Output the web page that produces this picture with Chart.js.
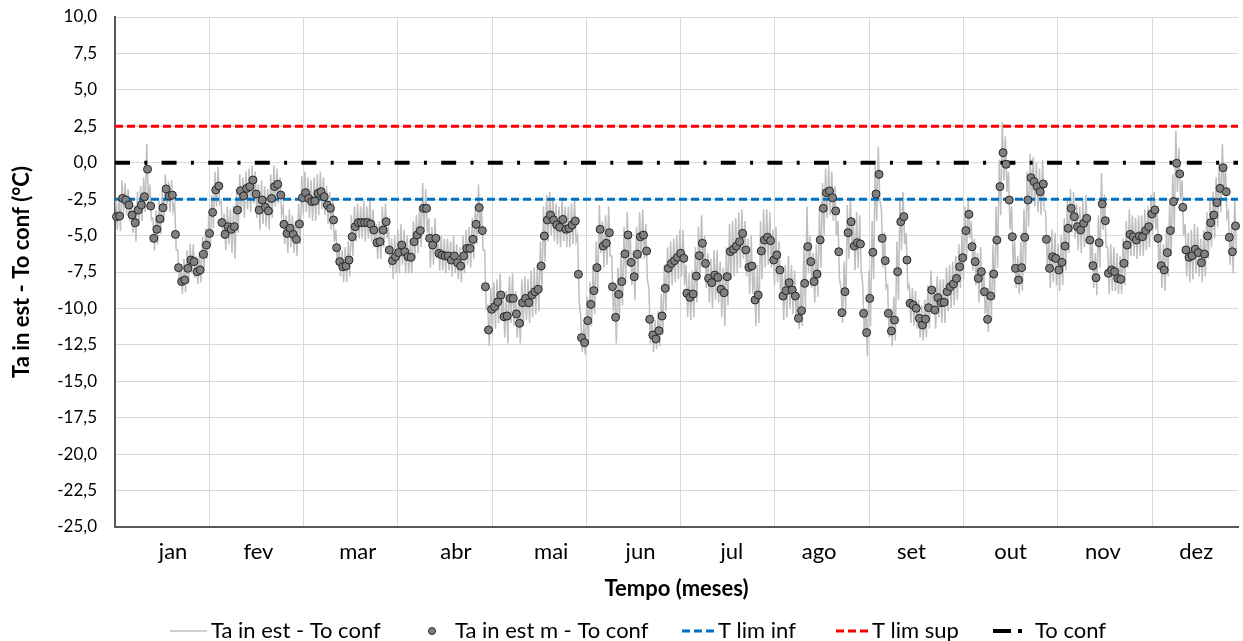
<!DOCTYPE html>
<html>
<head>
<meta charset="utf-8">
<script src="https://cdn.jsdelivr.net/npm/chart.js@4"></script>
<style>
  html, body { margin: 0; padding: 0; background: #fff; overflow: hidden; }
  #wrap { position: relative; width: 1243px; height: 641px; }
</style>
</head>
<body>
<div id="wrap"><canvas id="chart" width="1243" height="641"></canvas></div>
<script>
// month labels on the x axis
const months = ['jan', 'fev', 'mar', 'abr', 'mai', 'jun', 'jul', 'ago', 'set', 'out', 'nov', 'dez'];

// daily mean (Ta in est m - To conf), one value per day from 1 Jan
const dailyMean = [
  -3.70, -3.66, -2.45, -2.56, -2.90, -3.59, -4.12, -3.25, -2.90, -2.33,
  -0.45, -2.97, -5.19, -4.57, -3.86, -3.09, -1.80, -2.28, -2.22, -4.92,
  -7.20, -8.16, -8.05, -7.25, -6.68, -6.79, -7.48, -7.36, -6.29, -5.65,
  -4.85, -3.41, -1.87, -1.60, -4.11, -4.92, -4.39, -4.57, -4.39, -3.25,
  -1.92, -2.28, -1.76, -1.64, -1.19, -2.15, -3.25, -2.56, -3.06, -3.31,
  -2.45, -1.64, -1.48, -2.22, -4.23, -4.85, -4.50, -4.92, -5.26, -4.21,
  -2.40, -2.06, -2.45, -2.67, -2.63, -2.10, -1.99, -2.33, -2.90, -3.13,
  -3.93, -5.83, -6.79, -7.14, -7.09, -6.68, -5.08, -4.39, -4.11, -4.11,
  -4.11, -4.11, -4.21, -4.62, -5.49, -5.42, -4.62, -4.05, -5.99, -6.72,
  -6.45, -6.17, -5.65, -6.11, -6.45, -6.49, -5.42, -4.96, -4.66, -3.13,
  -3.13, -5.19, -5.65, -5.19, -6.22, -6.33, -6.40, -6.40, -6.68, -6.40,
  -6.86, -7.09, -6.40, -5.88, -5.88, -5.26, -4.23, -3.08, -4.66, -8.51,
  -11.48, -10.06, -9.88, -9.54, -9.08, -10.57, -10.52, -9.31, -9.31, -10.38,
  -11.02, -9.61, -9.31, -9.61, -9.08, -8.85, -8.69, -7.09, -5.03, -3.93,
  -3.59, -3.93, -4.27, -4.43, -3.89, -4.57, -4.50, -4.27, -4.00, -7.66,
  -12.01, -12.35, -10.84, -9.72, -8.78, -7.20, -4.57, -5.72, -5.53, -4.80,
  -8.51, -10.61, -9.03, -8.16, -6.26, -4.96, -6.84, -7.82, -6.29, -5.08,
  -4.96, -6.06, -10.75, -11.82, -12.10, -11.53, -10.52, -8.62, -7.25, -6.91,
  -6.72, -6.49, -6.22, -6.56, -8.96, -9.24, -9.01, -7.78, -6.38, -5.53,
  -6.91, -7.94, -8.23, -7.71, -7.87, -8.69, -8.92, -7.82, -6.10, -5.94,
  -5.72, -5.42, -4.85, -5.99, -7.18, -7.09, -9.42, -9.08, -6.06, -5.30,
  -5.12, -5.35, -6.68, -6.33, -7.36, -9.15, -8.78, -8.23, -8.74, -9.15,
  -10.68, -10.16, -8.28, -5.76, -6.79, -8.16, -7.64, -5.30, -3.13, -2.06,
  -1.94, -2.40, -3.31, -6.11, -10.29, -8.85, -4.80, -4.05, -5.72, -5.49,
  -5.58, -10.34, -11.66, -9.31, -6.15, -2.15, -0.80, -5.19, -6.72, -10.34,
  -11.55, -10.80, -7.48, -4.05, -3.70, -6.68, -9.65, -9.77, -9.99, -10.68,
  -11.14, -10.73, -9.95, -8.74, -10.11, -9.26, -9.61, -9.58, -8.85, -8.51,
  -8.32, -7.94, -7.14, -6.52, -4.66, -3.54, -5.76, -6.79, -7.94, -7.48,
  -8.85, -10.75, -9.15, -7.64, -5.31, -1.64, 0.69, -0.11, -2.56, -5.08,
  -7.25, -8.05, -7.20, -5.12, -2.56, -1.03, -1.30, -1.64, -1.99, -1.46,
  -5.26, -7.25, -6.45, -6.56, -7.36, -6.84, -5.72, -4.50, -3.13, -3.70,
  -4.39, -4.62, -4.16, -3.82, -5.31, -7.07, -7.89, -5.49, -2.83, -3.98,
  -7.59, -7.36, -7.48, -7.94, -8.00, -6.91, -5.65, -4.92, -5.08, -5.31,
  -5.03, -5.08, -4.66, -4.39, -3.52, -3.24, -5.19, -7.07, -7.36, -6.17,
  -4.66, -2.67, -0.04, -0.77, -3.06, -5.99, -6.49, -6.38, -5.94, -6.17,
  -6.86, -6.27, -5.03, -4.12, -3.59, -2.74, -1.76, -0.34, -1.99, -5.12,
  -6.11, -4.34
];

// hourly trace (Ta in est - To conf): daily top and bottom of the grey line
const traceHigh = [
  -2.6, -2.2, -1.2, -1.4, -1.8, -2.4, -2.9, -2.0, -1.6, -1.0,
  1.3, -1.5, -3.8, -3.3, -2.6, -1.9, -0.8, -1.3, -1.2, -2.8,
  -6.0, -7.0, -6.6, -6.0, -5.6, -5.6, -6.4, -6.2, -5.1, -4.5,
  -3.6, -2.2, -0.6, -0.3, -2.6, -3.5, -3.0, -3.2, -3.0, -1.8,
  -0.8, -1.0, -0.6, -0.4, -0.2, -0.6, -1.5, -1.2, -1.6, -1.8,
  -0.8, -0.2, -0.4, -1.0, -3.0, -3.6, -3.2, -3.6, -4.0, -2.8,
  -0.9, -0.6, -1.0, -1.2, -1.0, -0.8, -0.6, -1.0, -1.6, -2.0,
  -2.6, -4.6, -5.6, -6.0, -5.8, -5.4, -3.6, -3.0, -2.8, -3.0,
  -2.6, -3.0, -2.4, -3.2, -4.2, -4.0, -3.0, -2.8, -4.4, -5.2,
  -5.0, -4.6, -4.2, -4.6, -5.0, -5.2, -4.0, -3.6, -3.0, -1.4,
  -1.8, -3.8, -4.4, -3.8, -5.0, -5.0, -5.2, -5.2, -5.4, -5.0,
  -5.6, -5.8, -5.0, -4.6, -4.4, -3.8, -3.0, -1.5, -3.0, -6.0,
  -9.8, -8.6, -8.2, -8.0, -7.6, -9.0, -8.8, -7.8, -7.6, -8.8,
  -9.4, -8.0, -7.8, -8.0, -7.4, -7.2, -7.0, -5.4, -3.0, -2.2,
  -2.0, -2.4, -2.8, -3.0, -2.4, -3.0, -3.0, -2.8, -2.4, -5.0,
  -10.6, -11.0, -9.2, -8.2, -7.0, -5.4, -2.9, -4.0, -3.6, -3.0,
  -6.4, -8.8, -7.2, -6.4, -4.4, -3.4, -5.0, -6.0, -4.4, -3.4,
  -3.2, -4.2, -8.6, -10.4, -10.8, -10.2, -9.0, -7.0, -5.8, -5.4,
  -5.2, -5.0, -4.6, -4.6, -7.0, -7.6, -7.4, -5.8, -4.4, -3.6,
  -5.0, -6.2, -6.6, -6.0, -6.0, -6.8, -7.2, -5.8, -4.2, -4.0,
  -3.8, -3.4, -3.2, -4.0, -5.2, -5.0, -7.4, -7.0, -4.0, -3.2,
  -3.2, -3.4, -4.6, -4.4, -5.4, -7.2, -7.0, -6.4, -7.0, -7.4,
  -9.0, -8.4, -5.8, -3.0, -5.0, -6.2, -5.6, -3.2, -1.4, -0.4,
  -0.2, -0.6, -1.6, -4.0, -8.6, -6.8, -2.9, -2.4, -3.8, -3.4,
  -3.6, -8.4, -10.0, -7.4, -4.0, -0.2, 1.1, -3.2, -4.8, -8.4,
  -10.0, -9.2, -5.4, -2.4, -2.0, -4.8, -8.4, -8.6, -8.8, -9.4,
  -9.8, -9.4, -8.4, -7.4, -8.6, -7.8, -8.0, -8.0, -7.2, -7.0,
  -6.8, -6.4, -5.6, -4.8, -3.0, -2.4, -4.0, -5.2, -6.2, -5.8,
  -7.2, -9.2, -7.4, -5.6, -3.0, 0.2, 2.8, 1.8, -0.6, -3.0,
  -5.4, -6.4, -5.4, -3.2, -0.6, 0.6, 0.4, 0.0, -0.4, 0.2,
  -3.4, -5.4, -4.6, -4.8, -5.6, -5.0, -3.8, -2.4, -1.8, -2.0,
  -2.8, -3.0, -2.6, -2.2, -3.6, -5.4, -6.2, -3.6, -0.7, -2.2,
  -5.8, -5.6, -5.8, -6.2, -6.4, -5.2, -4.0, -3.2, -3.6, -3.8,
  -3.6, -3.6, -3.2, -3.0, -2.2, -2.0, -3.4, -5.4, -5.6, -4.4,
  -2.8, -0.8, 2.2, 1.0, -1.2, -4.2, -4.8, -4.6, -4.2, -4.4,
  -5.2, -4.6, -3.4, -2.6, -2.0, -1.0, 0.0, 1.3, -0.2, -3.4,
  -4.4, -2.6
];
const traceLow = [
  -4.6, -4.7, -3.5, -3.6, -4.0, -4.8, -5.4, -4.3, -4.0, -3.4,
  -2.8, -3.9, -6.0, -5.6, -4.9, -4.1, -2.9, -3.4, -3.3, -6.0,
  -8.2, -9.0, -8.9, -8.3, -7.6, -7.9, -8.3, -8.2, -7.2, -6.6,
  -5.8, -4.5, -3.0, -2.8, -5.2, -6.0, -5.6, -6.2, -6.6, -4.8,
  -3.4, -3.8, -3.2, -3.4, -2.8, -3.8, -4.6, -4.2, -4.4, -4.6,
  -3.8, -3.0, -2.8, -3.6, -5.6, -6.2, -5.8, -6.2, -6.4, -5.6,
  -3.6, -3.4, -3.8, -4.0, -4.0, -3.6, -3.2, -3.6, -4.2, -4.6,
  -5.4, -7.0, -7.8, -8.2, -8.2, -7.8, -6.4, -5.4, -5.2, -5.2,
  -5.4, -5.2, -5.4, -5.8, -6.6, -6.6, -5.8, -5.2, -7.2, -8.0,
  -7.6, -7.6, -7.0, -7.6, -7.6, -7.6, -6.6, -6.2, -5.8, -4.6,
  -4.8, -7.2, -7.0, -6.6, -7.4, -7.4, -7.6, -7.4, -7.8, -7.6,
  -8.0, -8.2, -7.6, -7.0, -7.2, -6.6, -5.6, -4.4, -6.0, -10.0,
  -12.6, -11.6, -11.4, -11.0, -10.8, -12.0, -12.4, -11.0, -11.2, -12.0,
  -12.4, -11.2, -10.8, -11.0, -10.6, -10.4, -10.2, -8.8, -6.8, -5.4,
  -5.0, -5.4, -5.6, -5.8, -5.4, -5.8, -5.8, -5.6, -5.4, -9.6,
  -13.0, -13.2, -12.4, -11.2, -10.4, -8.8, -6.2, -7.2, -7.0, -6.4,
  -10.2, -12.4, -10.6, -9.8, -8.0, -6.6, -8.4, -9.4, -7.8, -6.6,
  -6.6, -8.0, -12.4, -13.0, -12.8, -12.6, -11.8, -10.2, -8.8, -8.4,
  -8.2, -8.0, -7.8, -8.4, -10.6, -10.8, -10.6, -9.6, -8.0, -7.2,
  -8.6, -9.6, -10.0, -9.4, -9.6, -10.6, -11.2, -9.8, -8.0, -7.8,
  -7.6, -7.2, -6.6, -7.8, -9.0, -9.0, -11.2, -11.0, -8.0, -7.2,
  -7.0, -7.2, -8.4, -8.2, -9.2, -10.8, -10.6, -10.0, -10.4, -10.8,
  -11.4, -11.2, -10.0, -7.6, -8.6, -9.6, -9.2, -7.2, -5.0, -3.8,
  -3.6, -4.0, -5.0, -8.0, -11.0, -10.4, -6.6, -5.8, -7.4, -7.2,
  -7.4, -12.0, -13.3, -11.2, -8.0, -4.0, -2.6, -7.2, -8.6, -12.0,
  -12.6, -12.2, -9.4, -6.0, -5.6, -8.6, -11.0, -11.2, -11.4, -12.0,
  -12.2, -12.0, -11.4, -10.2, -11.4, -10.6, -11.0, -11.0, -10.2, -10.0,
  -9.8, -9.4, -8.6, -8.0, -6.4, -5.2, -7.4, -8.4, -9.6, -9.2,
  -10.4, -11.6, -10.8, -9.4, -7.2, -3.6, -1.2, -2.0, -4.6, -7.0,
  -8.6, -9.0, -8.8, -7.0, -4.4, -2.8, -3.0, -3.4, -3.6, -3.2,
  -7.2, -8.6, -8.2, -8.4, -8.8, -8.4, -7.4, -6.2, -4.8, -5.2,
  -6.0, -6.2, -5.8, -5.4, -7.0, -8.6, -9.1, -7.2, -4.6, -5.8,
  -9.0, -8.8, -8.8, -9.0, -9.0, -8.4, -7.2, -6.4, -6.4, -6.6,
  -6.4, -6.4, -6.0, -5.8, -5.0, -4.6, -7.0, -8.6, -8.8, -7.8,
  -6.4, -4.6, -2.0, -2.6, -5.0, -7.8, -8.2, -8.0, -7.6, -7.8,
  -8.2, -7.8, -6.6, -5.8, -5.2, -4.4, -3.4, -2.2, -3.8, -7.0,
  -7.6, -6.0
];

// horizontal reference levels
const tLimInf = -2.5;
const tLimSup = 2.5;
const toConf = 0;

// layout
const MONTH_DAYS = 365 / 12;
const X_MAX = 362.3;          // the picture is cut a few days before 31 Dec
const PLOT_LEFT = 115;
const PX_PER_DAY = (1243 - PLOT_LEFT) / X_MAX;
// month names are not exactly centred between gridlines in the original
const labelShiftPx = [11, 2, 7, 11, 12, 7, 4, -3, -5, 0, -2, -3];

const fmt = v => v.toFixed(1).replace('.', ',');

const trace = [];
dailyMean.forEach((_, i) => {
  trace.push({ x: i + 0.25, y: traceHigh[i] });
  trace.push({ x: i + 0.75, y: traceLow[i] });
});
const meanPoints = dailyMean.map((v, i) => ({ x: i + 0.5, y: v }));
const level = v => [{ x: 0, y: v }, { x: X_MAX, y: v }];

const FONT = 'Lato, Carlito, Calibri, sans-serif';
Chart.defaults.font.family = FONT;
Chart.defaults.color = '#000';

const legendItems = [
  { ds: 4, x: 170, w: 37, tx: 211 },
  { ds: 0, x: 428, w: 8, tx: 455, point: true },
  { ds: 1, x: 682, w: 34, tx: 718 },
  { ds: 2, x: 836, w: 34, tx: 872 },
  { ds: 3, x: 993, w: 33, tx: 1035, dash: [18, 7, 4, 20] }
];

const refLegend = {
  id: 'refLegend',
  afterDraw(chart) {
    const { ctx } = chart;
    const sets = chart.data.datasets;
    const y = 631;
    ctx.save();
    ctx.font = '22px ' + FONT;
    ctx.textBaseline = 'middle';
    legendItems.forEach(item => {
      const d = sets[item.ds];
      if (item.point) {
        ctx.beginPath();
        ctx.arc(item.x + item.w / 2, y, 3.5, 0, Math.PI * 2);
        ctx.fillStyle = d.pointBackgroundColor;
        ctx.fill();
        ctx.lineWidth = 1;
        ctx.strokeStyle = d.pointBorderColor;
        ctx.stroke();
      } else {
        ctx.beginPath();
        ctx.setLineDash(item.dash || d.borderDash || []);
        ctx.lineWidth = d.borderWidth;
        ctx.strokeStyle = d.borderColor;
        ctx.moveTo(item.x, y);
        ctx.lineTo(item.x + item.w, y);
        ctx.stroke();
        ctx.setLineDash([]);
      }
      ctx.fillStyle = '#000';
      ctx.fillText(d.label, item.tx, y);
    });
    ctx.restore();
  }
};

new Chart(document.getElementById('chart'), {
  type: 'scatter',
  data: {
    datasets: [
      {
        label: 'Ta in est m - To conf',
        data: meanPoints,
        showLine: false,
        pointRadius: 4,
        pointBorderWidth: 1,
        pointBackgroundColor: '#808080',
        pointBorderColor: '#262626',
        clip: false,
        order: 0
      },
      {
        label: 'T lim inf',
        data: level(tLimInf),
        showLine: true,
        borderColor: '#0070C0',
        borderWidth: 3,
        borderDash: [8, 4],
        pointRadius: 0,
        order: 1
      },
      {
        label: 'T lim sup',
        data: level(tLimSup),
        showLine: true,
        borderColor: '#FF0000',
        borderWidth: 3,
        borderDash: [8, 4],
        pointRadius: 0,
        order: 1
      },
      {
        label: 'To conf',
        data: level(toConf),
        showLine: true,
        borderColor: '#000000',
        borderWidth: 4,
        borderDash: [15, 14.3, 3, 14.3],
        pointRadius: 0,
        order: 1
      },
      {
        label: 'Ta in est - To conf',
        data: trace,
        showLine: true,
        borderColor: '#BFBFBF',
        borderWidth: 1.5,
        pointRadius: 0,
        tension: 0,
        order: 2
      }
    ]
  },
  options: {
    responsive: false,
    animation: false,
    devicePixelRatio: 1,
    layout: { padding: { top: 17, right: 0, bottom: 39, left: 0 } },
    plugins: {
      legend: { display: false },
      tooltip: { enabled: false }
    },
    scales: {
      x: {
        type: 'linear',
        min: 0,
        max: X_MAX,
        afterBuildTicks(axis) {
          const t = [];
          months.forEach((m, k) => {
            if (k > 0) t.push({ value: k * MONTH_DAYS, boundary: true, month: '' });
            t.push({ value: (k + 0.5) * MONTH_DAYS + labelShiftPx[k] / PX_PER_DAY, boundary: false, month: m });
          });
          axis.ticks = t.filter(o => o.value <= X_MAX);
        },
        afterFit(axis) { axis.height = 75; },
        ticks: {
          autoSkip: false,
          maxRotation: 0,
          padding: 12,
          font: { size: 22 },
          callback: (value, i, ticks) => ticks[i].month
        },
        grid: {
          color: ctx => (ctx.tick && ctx.tick.boundary) ? '#D9D9D9' : 'rgba(0,0,0,0)',
          lineWidth: 1,
          drawTicks: false
        },
        border: { color: '#595959', width: 2 },
        title: {
          display: true,
          text: 'Tempo (meses)',
          font: { size: 22, weight: 'bold' },
          padding: { top: 0, bottom: 0 }
        }
      },
      y: {
        min: -25,
        max: 10,
        afterFit(axis) { axis.width = PLOT_LEFT; },
        ticks: {
          stepSize: 2.5,
          padding: 0,
          font: { size: 17 },
          callback: v => fmt(v)
        },
        grid: {
          color: '#D9D9D9',
          lineWidth: 1,
          drawTicks: true,
          tickLength: 18,
          tickColor: 'rgba(0,0,0,0)'
        },
        border: { color: '#595959', width: 2 },
        title: {
          display: true,
          text: 'Ta in est - To conf (°C)',
          font: { size: 22, weight: 'bold' },
          padding: { top: 9, bottom: 0 }
        }
      }
    }
  },
  plugins: [refLegend]
});
</script>
</body>
</html>
